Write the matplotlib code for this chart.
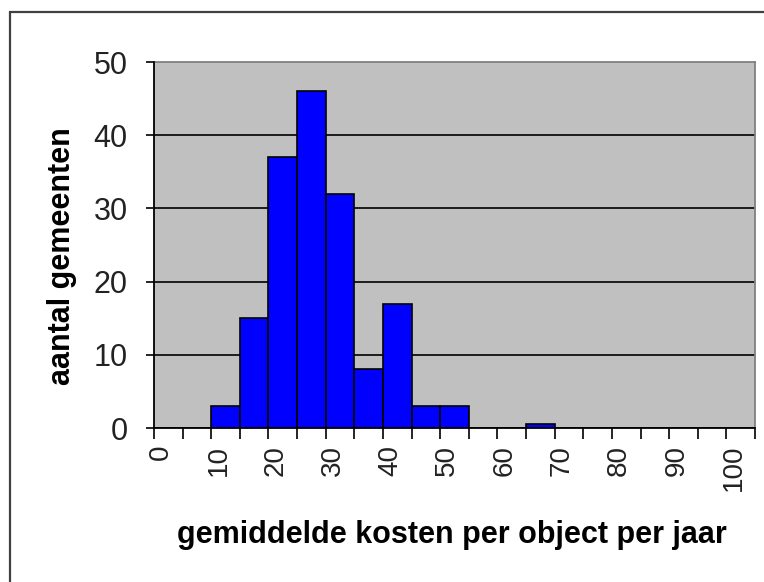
import matplotlib
matplotlib.use('Agg')
import matplotlib.pyplot as plt
from matplotlib.patches import Rectangle

plt.rcParams['font.family'] = ['Liberation Sans', 'DejaVu Sans']

# histogram classes (kosten per object per jaar), one bar per class of 5
categories = [0, 5, 10, 15, 20, 25, 30, 35, 40, 45, 50,
              55, 60, 65, 70, 75, 80, 85, 90, 95, 100]
counts = [0, 0, 3, 15, 37, 46, 32, 8, 17, 3, 3,
          0, 0, 0.6, 0, 0, 0, 0, 0, 0, 0]
x_labels = ['0', '10', '20', '30', '40', '50', '60', '70', '80', '90', '100']
y_ticks = [0, 10, 20, 30, 40, 50]

fig = plt.figure(figsize=(7.64, 5.82), dpi=100)
fig.patch.set_facecolor('white')

# outer chart border (runs off the right and bottom of the picture)
fig.patches.append(Rectangle((10 / 764, -0.1), 2, (582 - 12) / 582 + 0.1,
                             transform=fig.transFigure, fill=False,
                             edgecolor='#404040', linewidth=1.6))

ax = fig.add_axes([154 / 764, (582 - 428) / 582, 601 / 764, 366 / 582])
ax.set_facecolor('#c0c0c0')

pos = list(range(len(categories)))
ax.bar(pos, counts, width=1, align='edge', color='#0000ff',
       edgecolor='black', linewidth=1.2, zorder=3)

ax.set_xlim(0, len(categories))
ax.set_ylim(0, 50)

# gridlines
ax.hlines(y_ticks[1:-1], 0, len(categories), colors='black', linewidth=1.2, zorder=2)

ax.set_yticks(y_ticks)
ax.set_yticklabels([str(v) for v in y_ticks], fontsize=22, color='#222222')
ax.tick_params(axis='y', length=6, width=1.2, pad=13, direction='out')

ax.set_xticks(range(len(categories) + 1))
ax.set_xticklabels([])
ax.tick_params(axis='x', which='major', length=8, width=1.2, direction='out')
ax.set_xticks([i + 0.25 for i in range(0, len(categories), 2)], minor=True)
ax.set_xticklabels(x_labels, minor=True, rotation=90, fontsize=20,
                   color='#222222')
ax.tick_params(axis='x', which='minor', length=0, pad=12)

for s in ['left', 'bottom']:
    ax.spines[s].set_color('black')
    ax.spines[s].set_linewidth(1.3)
    ax.spines[s].set_zorder(4)
for s in ['top', 'right']:
    ax.spines[s].set_color('#808080')
    ax.spines[s].set_linewidth(1.3)

ax.set_ylabel('aantal gemeenten', fontsize=22, fontweight='bold')
ax.yaxis.set_label_coords(-0.128, 0.47)
ax.set_xlabel('gemiddelde kosten per object per jaar', fontsize=22,
              fontweight='bold')
ax.xaxis.set_label_coords(0.496, -0.25)

fig.savefig('out.png', dpi=100)
